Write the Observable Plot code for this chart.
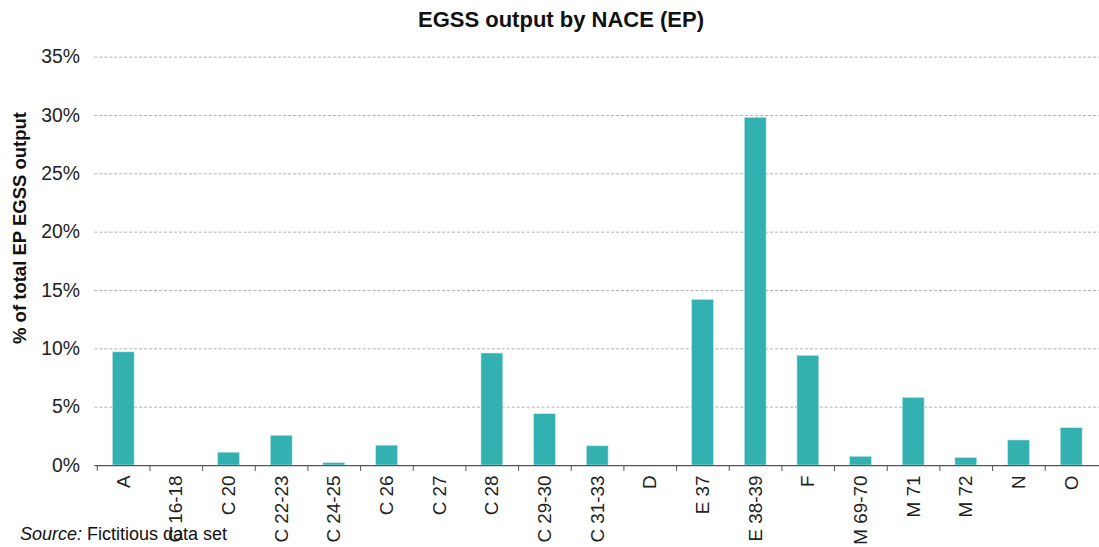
<!DOCTYPE html>
<html>
<head>
<meta charset="utf-8">
<script src="https://cdn.jsdelivr.net/npm/d3@7"></script>
<script src="https://cdn.jsdelivr.net/npm/@observablehq/plot@0.6"></script>
<style>
  html, body { margin: 0; padding: 0; background: #fff; overflow: hidden; }
  #wrap { position: relative; width: 1099px; height: 547px; overflow: hidden; font-family: Arial, "Liberation Sans", sans-serif; }
  #title { position: absolute; left: 0; width: 1122px; top: 7px; text-align: center; font-weight: bold; font-size: 22px; color: #111; }
  #ylab { position: absolute; left: 20px; top: 228px; transform: translate(-50%, -50%) rotate(-90deg); white-space: nowrap; font-weight: bold; font-size: 18.5px; color: #111; }
  #caption { position: absolute; left: 20px; top: 524px; font-size: 18px; color: #111; white-space: nowrap; }
  #chart { position: absolute; left: 0; top: 0; }
</style>
</head>
<body>
<div id="wrap">
  <div id="chart"></div>
  <div id="title">EGSS output by NACE (EP)</div>
  <div id="ylab">% of total EP EGSS output</div>
  <div id="caption"><i>Source:</i> Fictitious data set</div>
</div>
<script>
const categories = ["A", "C 16-18", "C 20", "C 22-23", "C 24-25", "C 26", "C 27", "C 28", "C 29-30", "C 31-33", "D", "E 37", "E 38-39", "F", "M 69-70", "M 71", "M 72", "N", "O"];
const values = [9.7, 0, 1.1, 2.55, 0.2, 1.7, 0, 9.6, 4.4, 1.65, 0, 14.2, 29.8, 9.4, 0.75, 5.8, 0.65, 2.15, 3.2];
const yTicks = [0, 5, 10, 15, 20, 25, 30, 35];

const data = categories.map((c, i) => ({category: c, value: values[i]}));

const width = 1106, marginLeft = 95, marginRight = 0;
const step = (width - marginLeft - marginRight) / categories.length;

const chart = Plot.plot({
  width,
  height: 547,
  marginLeft,
  marginRight,
  marginTop: 57,
  marginBottom: 79,
  style: {fontFamily: "Arial, 'Liberation Sans', sans-serif", color: "#222", background: "transparent"},
  x: {domain: categories, paddingInner: 0.586, paddingOuter: 0.293, label: null},
  y: {domain: [0, 35], label: null},
  marks: [
    Plot.gridY(yTicks.filter(d => d > 0), {stroke: "#b0b0b0", strokeOpacity: 1, strokeDasharray: "3,2"}),
    Plot.barY(data, {x: "category", y: "value", fill: "#33b0b0", stroke: "#c8ecec", strokeWidth: 0.6}),
    Plot.ruleY([0], {stroke: "#555", strokeWidth: 1.2}),
    Plot.axisY({ticks: yTicks, tickFormat: d => d + "%", tickSize: 0, tickPadding: 15, fontSize: 19.5, label: null}),
    Plot.axisX({tickSize: 6, tickFormat: () => "", dx: -step / 2, stroke: "#555", label: null}),
    Plot.axisX({tickSize: 0, tickPadding: 10, tickRotate: -90, fontSize: 19, label: null})
  ]
});
document.getElementById("chart").appendChild(chart);
</script>
</body>
</html>
